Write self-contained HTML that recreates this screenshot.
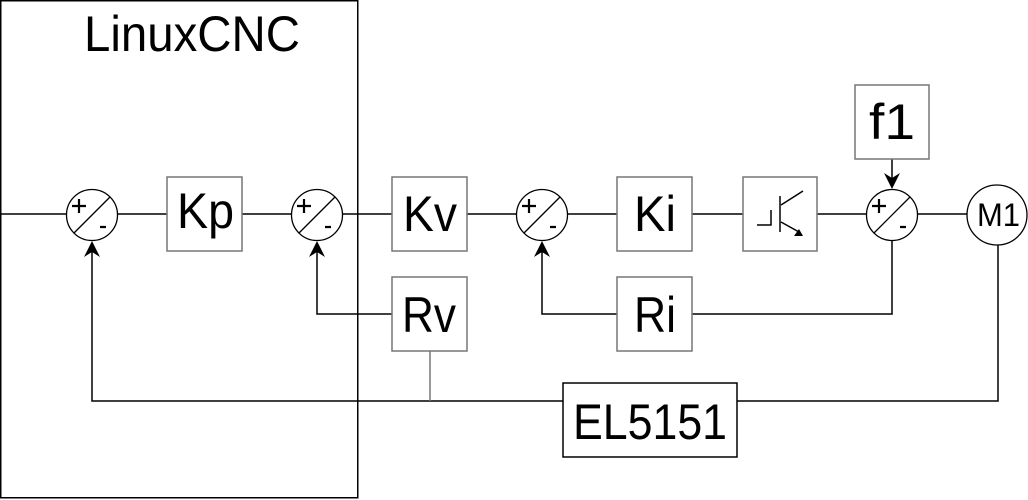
<!DOCTYPE html>
<html><head><meta charset="utf-8"><style>html,body{margin:0;padding:0;background:#fff}svg{display:block}</style></head>
<body>
<svg width="1028" height="500" viewBox="0 0 1028 500" xmlns="http://www.w3.org/2000/svg" font-family="Liberation Sans, sans-serif">
<g fill="none" stroke="#000" stroke-width="1.5">
<rect x="0.75" y="0.75" width="357" height="497"/>
<line x1="0" y1="214" x2="67" y2="214"/>
<line x1="118" y1="214" x2="167" y2="214"/>
<line x1="242" y1="214" x2="292" y2="214"/>
<line x1="343" y1="214" x2="392" y2="214"/>
<line x1="467" y1="214" x2="517" y2="214"/>
<line x1="568" y1="214" x2="617" y2="214"/>
<line x1="692" y1="214" x2="743" y2="214"/>
<line x1="817" y1="214" x2="867" y2="214"/>
<line x1="918" y1="214" x2="967" y2="214"/>
<polyline points="392,314 317,314 317,250"/>
<polyline points="617,314 542,314 542,250"/>
<polyline points="692,314 892,314 892,240"/>
<line x1="892" y1="159" x2="892" y2="180"/>
<polyline points="563,401 92,401 92,250"/>
<polyline points="737,401 998,401 998,245"/>
<line x1="430" y1="351" x2="430" y2="401" stroke="#777"/>
<g stroke-width="1.3">
<circle cx="92" cy="215" r="25.5"/><line x1="74" y1="233" x2="110" y2="197"/>
<circle cx="317" cy="215" r="25.5"/><line x1="299" y1="233" x2="335" y2="197"/>
<circle cx="542" cy="215" r="25.5"/><line x1="524" y1="233" x2="560" y2="197"/>
<circle cx="892" cy="215" r="25.5"/><line x1="874" y1="233" x2="910" y2="197"/>
<circle cx="997" cy="215" r="30"/>
</g>
<g stroke-width="2.2">
<path d="M72,206 H86 M79,199 V213 M100,227 H106"/>
<path d="M297,206 H311 M304,199 V213 M325,227 H331"/>
<path d="M522,206 H536 M529,199 V213 M550,227 H556"/>
<path d="M872,206 H886 M879,199 V213 M900,227 H906"/>
</g>
<g stroke="#777">
<rect x="167" y="177" width="75" height="74"/>
<rect x="392" y="177" width="75" height="74"/>
<rect x="617" y="177" width="75" height="74"/>
<rect x="743" y="177" width="74" height="74"/>
<rect x="855" y="85" width="74" height="74"/>
<rect x="392" y="277" width="75" height="74"/>
<rect x="617" y="277" width="75" height="74"/>
</g>
<rect x="563" y="383" width="174" height="74"/>
<g stroke-width="1.5">
<polyline points="757,225 771,225 771,210"/>
<line x1="780" y1="196" x2="780" y2="232"/>
<line x1="781" y1="205" x2="803" y2="191"/>
<line x1="781" y1="222" x2="799" y2="232"/>
</g>
</g>
<g fill="#000">
<path d="M803,236 L794,236 L799,229 Z"/>
<path d="M92,241 L100,257 L92,252 L84,257 Z"/>
<path d="M317,241 L325,257 L317,252 L309,257 Z"/>
<path d="M542,241 L550,257 L542,252 L534,257 Z"/>
<path d="M892,189 L884,173 L892,178 L900,173 Z"/>
</g>
<g fill="#000" font-size="50">
<text x="84" y="51" textLength="216" lengthAdjust="spacingAndGlyphs">LinuxCNC</text>
<text x="177" y="228" textLength="57" lengthAdjust="spacingAndGlyphs">Kp</text>
<text x="403" y="231" textLength="54" lengthAdjust="spacingAndGlyphs">Kv</text>
<text x="634" y="231" textLength="42" lengthAdjust="spacingAndGlyphs">Ki</text>
<text x="869" y="139" textLength="46" lengthAdjust="spacingAndGlyphs">f1</text>
<text x="402" y="332" textLength="54" lengthAdjust="spacingAndGlyphs">Rv</text>
<text x="634" y="332" textLength="42" lengthAdjust="spacingAndGlyphs">Ri</text>
<text x="573" y="439" textLength="154" lengthAdjust="spacingAndGlyphs">EL5151</text>
<text x="977" y="226" font-size="32" textLength="43" lengthAdjust="spacingAndGlyphs">M1</text>
</g>
</svg>
</body></html>
